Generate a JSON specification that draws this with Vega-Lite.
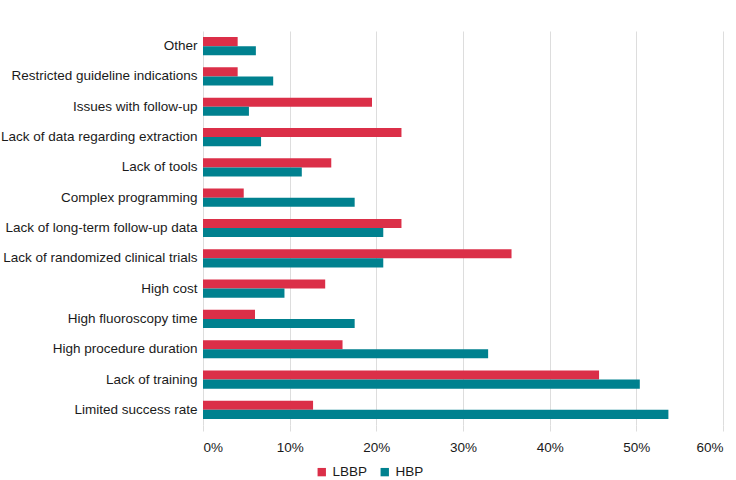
{
  "$schema": "https://vega.github.io/schema/vega-lite/v6.json",
  "width": 520,
  "height": 394,
  "padding": {"left": 0, "top": 31, "right": 10, "bottom": 0},
  "background": "white",
  "config": {
    "font": "Liberation Sans",
    "view": {"stroke": null}
  },
  "data": {
    "values": [
      {"reason": "Other", "group": "LBBP", "pct": 4.0},
      {"reason": "Other", "group": "HBP", "pct": 6.1},
      {"reason": "Restricted guideline indications", "group": "LBBP", "pct": 4.0},
      {"reason": "Restricted guideline indications", "group": "HBP", "pct": 8.1},
      {"reason": "Issues with follow-up", "group": "LBBP", "pct": 19.5},
      {"reason": "Issues with follow-up", "group": "HBP", "pct": 5.3},
      {"reason": "Lack of data regarding extraction", "group": "LBBP", "pct": 22.9},
      {"reason": "Lack of data regarding extraction", "group": "HBP", "pct": 6.7},
      {"reason": "Lack of tools", "group": "LBBP", "pct": 14.8},
      {"reason": "Lack of tools", "group": "HBP", "pct": 11.4},
      {"reason": "Complex programming", "group": "LBBP", "pct": 4.7},
      {"reason": "Complex programming", "group": "HBP", "pct": 17.5},
      {"reason": "Lack of long-term follow-up data", "group": "LBBP", "pct": 22.9},
      {"reason": "Lack of long-term follow-up data", "group": "HBP", "pct": 20.8},
      {"reason": "Lack of randomized clinical trials", "group": "LBBP", "pct": 35.6},
      {"reason": "Lack of randomized clinical trials", "group": "HBP", "pct": 20.8},
      {"reason": "High cost", "group": "LBBP", "pct": 14.1},
      {"reason": "High cost", "group": "HBP", "pct": 9.4},
      {"reason": "High fluoroscopy time", "group": "LBBP", "pct": 6.0},
      {"reason": "High fluoroscopy time", "group": "HBP", "pct": 17.5},
      {"reason": "High procedure duration", "group": "LBBP", "pct": 16.1},
      {"reason": "High procedure duration", "group": "HBP", "pct": 32.9},
      {"reason": "Lack of training", "group": "LBBP", "pct": 45.7},
      {"reason": "Lack of training", "group": "HBP", "pct": 50.4},
      {"reason": "Limited success rate", "group": "LBBP", "pct": 12.7},
      {"reason": "Limited success rate", "group": "HBP", "pct": 53.7}
    ]
  },
  "mark": {"type": "bar"},
  "encoding": {
    "y": {
      "field": "reason",
      "type": "nominal",
      "sort": null,
      "title": null,
      "scale": {"paddingInner": 0.4, "paddingOuter": 0.2},
      "axis": {
        "domain": false,
        "ticks": false,
        "labelFontSize": 13.5,
        "labelColor": "#1a1a1a",
        "labelPadding": 6,
        "labelLimit": 300
      }
    },
    "yOffset": {
      "field": "group",
      "type": "nominal",
      "sort": ["LBBP", "HBP"]
    },
    "x": {
      "field": "pct",
      "type": "quantitative",
      "title": null,
      "scale": {"domain": [0, 60]},
      "axis": {
        "values": [0, 10, 20, 30, 40, 50, 60],
        "labelExpr": "datum.value + '%'",
        "domain": false,
        "grid": true,
        "gridColor": "#dddddd",
        "ticks": true,
        "tickColor": "#dddddd",
        "tickSize": 6,
        "labelFontSize": 13.5,
        "labelColor": "#1a1a1a",
        "labelPadding": 9
      }
    },
    "color": {
      "field": "group",
      "type": "nominal",
      "sort": ["LBBP", "HBP"],
      "scale": {"domain": ["LBBP", "HBP"], "range": ["#DB2F48", "#00818F"]},
      "legend": {
        "title": null,
        "orient": "none",
        "legendX": 112,
        "legendY": 434,
        "direction": "horizontal",
        "symbolType": "square",
        "symbolSize": 70,
        "labelFontSize": 13.5,
        "labelColor": "#1a1a1a",
        "columnPadding": 10
      }
    }
  }
}
